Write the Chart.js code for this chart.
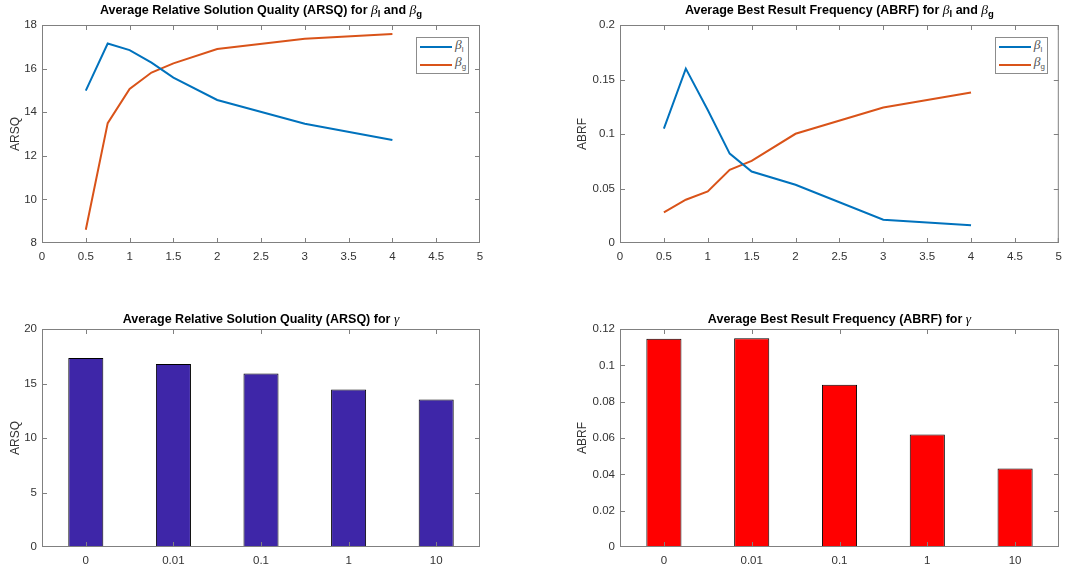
<!DOCTYPE html>
<html>
<head>
<meta charset="utf-8">
<script src="https://cdn.jsdelivr.net/npm/chart.js@4.4.1/dist/chart.umd.min.js"></script>
<style>
  html, body { margin: 0; padding: 0; background: #fff; }
  #fig { position: relative; width: 1069px; height: 571px; overflow: hidden; font-family: "Liberation Sans", Arial, sans-serif; }
  .ttl { position: absolute; font-weight: bold; font-size: 12.5px; line-height: 14px; color: #000; white-space: nowrap; transform: translateX(-50%); }
  .ttl i, .leg i { font-family: "Liberation Serif", serif; font-weight: normal; font-style: italic; font-size: 13.5px; }
  .ttl sub { font-size: 9.5px; line-height: 0; vertical-align: -3px; }
  .leg { position: absolute; box-sizing: border-box; width: 53px; height: 37px; border: 1px solid #8c8c8c; background: #fff; }
  .leg .ln { position: absolute; left: 3px; width: 32px; height: 2px; }
  .leg .lbl { position: absolute; left: 38px; font-size: 11px; line-height: 12px; color: #555; white-space: nowrap; }
  .leg .lbl sub { font-size: 8px; line-height: 0; vertical-align: -3px; }
</style>
</head>
<body>
<div id="fig"></div>
<script>
// beta values on the x axis of the two line plots
const betaX = [0.5, 0.75, 1, 1.25, 1.5, 2, 3, 4];
const arsqBetaL = [14.99, 17.15, 16.85, 16.27, 15.59, 14.56, 13.47, 12.72];
const arsqBetaG = [8.61, 13.5, 15.07, 15.82, 16.24, 16.9, 17.37, 17.59];
const abrfBetaL = [0.105, 0.160, 0.122, 0.082, 0.0656, 0.0534, 0.0214, 0.0162];
const abrfBetaG = [0.0281, 0.0397, 0.0473, 0.0672, 0.0754, 0.1002, 0.1243, 0.138];

// gamma bars
const gammaLabels = ['0', '0.01', '0.1', '1', '10'];
const arsqGamma = [17.34, 16.78, 15.92, 14.46, 13.54];
const abrfGamma = [0.1147, 0.1149, 0.0893, 0.0619, 0.0432];

// tick labels
const betaTicks = [0, 0.5, 1, 1.5, 2, 2.5, 3, 3.5, 4, 4.5, 5];
const arsqBetaTicks = [8, 10, 12, 14, 16, 18];
const abrfBetaTicks = [0, 0.05, 0.1, 0.15, 0.2];
const arsqGammaTicks = [0, 5, 10, 15, 20];
const abrfGammaTicks = [0, 0.02, 0.04, 0.06, 0.08, 0.1, 0.12];

const blue = '#0072BD';
const orange = '#D95319';
const axisColor = '#808080';
const textColor = '#333333';
const fontFamily = '"Liberation Sans", Arial, sans-serif';

const fig = document.getElementById('fig');

// matlab style box with inward ticks on all four sides
const boxTicks = {
  id: 'boxTicks',
  afterDraw(chart) {
    const { ctx, chartArea: a, scales } = chart;
    const clampX = v => Math.min(Math.max(v, a.left + 0.5), a.right - 0.5);
    const clampY = v => Math.min(Math.max(v, a.top + 0.5), a.bottom - 0.5);
    ctx.save();
    ctx.strokeStyle = axisColor;
    ctx.lineWidth = 1;
    ctx.strokeRect(a.left + 0.5, a.top + 0.5, a.right - a.left - 1, a.bottom - a.top - 1);
    ctx.beginPath();
    scales.x.ticks.forEach((t, i) => {
      const px = clampX(Math.round(scales.x.getPixelForTick(i)) + 0.5);
      ctx.moveTo(px, a.bottom); ctx.lineTo(px, a.bottom - 5);
      ctx.moveTo(px, a.top); ctx.lineTo(px, a.top + 5);
    });
    scales.y.ticks.forEach((t, i) => {
      const py = clampY(Math.round(scales.y.getPixelForTick(i)) + 0.5);
      ctx.moveTo(a.left, py); ctx.lineTo(a.left + 5, py);
      ctx.moveTo(a.right, py); ctx.lineTo(a.right - 5, py);
    });
    ctx.stroke();
    ctx.restore();
  }
};

function tickFont() {
  return { family: fontFamily, size: 11.5 };
}

function yAxis(o) {
  return {
    min: o.yTicks[0],
    max: o.yTicks[o.yTicks.length - 1],
    afterBuildTicks: s => { s.ticks = o.yTicks.map(v => ({ value: v })); },
    afterFit: s => { s.width = o.yWidth; },
    grid: { display: false, drawTicks: false },
    border: { display: false },
    ticks: { color: textColor, font: tickFont(), padding: 5, callback: v => String(v) },
    title: { display: true, text: o.yTitle, color: textColor, font: { family: fontFamily, size: 12 }, padding: { top: o.yTitlePad, bottom: 0 } }
  };
}

function makePanel(o) {
  const cv = document.createElement('canvas');
  cv.width = o.w;
  cv.height = o.h;
  cv.style.position = 'absolute';
  cv.style.left = o.left + 'px';
  cv.style.top = o.top + 'px';
  fig.appendChild(cv);

  let xAxis;
  if (o.type === 'line') {
    xAxis = {
      type: 'linear',
      min: 0, max: 5,
      afterBuildTicks: s => { s.ticks = betaTicks.map(v => ({ value: v })); },
      afterFit: s => { s.height = o.xHeight; },
      grid: { display: false, drawTicks: false },
      border: { display: false },
      ticks: { color: textColor, font: tickFont(), padding: 7, maxRotation: 0, callback: v => String(v) }
    };
  } else {
    xAxis = {
      type: 'category',
      afterFit: s => { s.height = o.xHeight; },
      grid: { display: false, drawTicks: false, offset: true },
      border: { display: false },
      ticks: { color: textColor, font: tickFont(), padding: 7, maxRotation: 0 }
    };
  }

  const chart = new Chart(cv, {
    type: o.type,
    data: o.data,
    options: {
      responsive: false,
      animation: false,
      devicePixelRatio: 1,
      layout: { padding: o.padding },
      plugins: { legend: { display: false }, tooltip: { enabled: false } },
      scales: { x: xAxis, y: yAxis(o) }
    },
    plugins: [boxTicks]
  });

  const a = chart.chartArea;
  const t = document.createElement('div');
  t.className = 'ttl';
  t.innerHTML = o.title;
  t.style.left = (o.left + (a.left + a.right) / 2) + 'px';
  t.style.top = (o.top + a.top - o.titleGap) + 'px';
  fig.appendChild(t);

  if (o.legend) {
    const lg = document.createElement('div');
    lg.className = 'leg';
    lg.style.left = (o.left + a.right - 11 - 53) + 'px';
    lg.style.top = (o.top + a.top + 12) + 'px';
    lg.innerHTML =
      '<div class="ln" style="top:8px;background:' + blue + '"></div>' +
      '<div class="lbl" style="top:1px"><i>β</i><sub>l</sub></div>' +
      '<div class="ln" style="top:26px;background:' + orange + '"></div>' +
      '<div class="lbl" style="top:18px"><i>β</i><sub>g</sub></div>';
    fig.appendChild(lg);
  }
  return chart;
}

function lineData(l, g) {
  const ds = (vals, color) => ({
    data: betaX.map((x, i) => ({ x: x, y: vals[i] })),
    borderColor: color,
    borderWidth: 2,
    pointRadius: 0,
    tension: 0,
    fill: false
  });
  return { datasets: [ds(l, blue), ds(g, orange)] };
}

function barData(vals, color) {
  return {
    labels: gammaLabels,
    datasets: [{
      data: vals,
      backgroundColor: color,
      borderColor: '#000000',
      borderWidth: 1,
      borderSkipped: false,
      barPercentage: 0.4,
      categoryPercentage: 1
    }]
  };
}

makePanel({
  type: 'line', left: 0, top: 0, w: 500, h: 275,
  padding: { left: 0, top: 25, right: 20, bottom: 0 },
  yWidth: 42, xHeight: 32, yTitlePad: 8, titleGap: 22,
  yTicks: arsqBetaTicks, yTitle: 'ARSQ',
  data: lineData(arsqBetaL, arsqBetaG), legend: true,
  title: 'Average Relative Solution Quality (ARSQ) for <i>β</i><sub>l</sub> and <i>β</i><sub>g</sub>'
});

makePanel({
  type: 'line', left: 560, top: 0, w: 509, h: 275,
  padding: { left: 0, top: 25, right: 10, bottom: 0 },
  yWidth: 60, xHeight: 32, yTitlePad: 15, titleGap: 22,
  yTicks: abrfBetaTicks, yTitle: 'ABRF',
  data: lineData(abrfBetaL, abrfBetaG), legend: true,
  title: 'Average Best Result Frequency (ABRF) for <i>β</i><sub>l</sub> and <i>β</i><sub>g</sub>'
});

makePanel({
  type: 'bar', left: 0, top: 300, w: 500, h: 271,
  padding: { left: 0, top: 29, right: 20, bottom: 0 },
  yWidth: 42, xHeight: 24, yTitlePad: 8, titleGap: 17,
  yTicks: arsqGammaTicks, yTitle: 'ARSQ',
  data: barData(arsqGamma, '#3E26A8'), legend: false,
  title: 'Average Relative Solution Quality (ARSQ) for <i>γ</i>'
});

makePanel({
  type: 'bar', left: 560, top: 300, w: 509, h: 271,
  padding: { left: 0, top: 29, right: 10, bottom: 0 },
  yWidth: 60, xHeight: 24, yTitlePad: 15, titleGap: 17,
  yTicks: abrfGammaTicks, yTitle: 'ABRF',
  data: barData(abrfGamma, '#FF0000'), legend: false,
  title: 'Average Best Result Frequency (ABRF) for <i>γ</i>'
});
</script>
</body>
</html>
